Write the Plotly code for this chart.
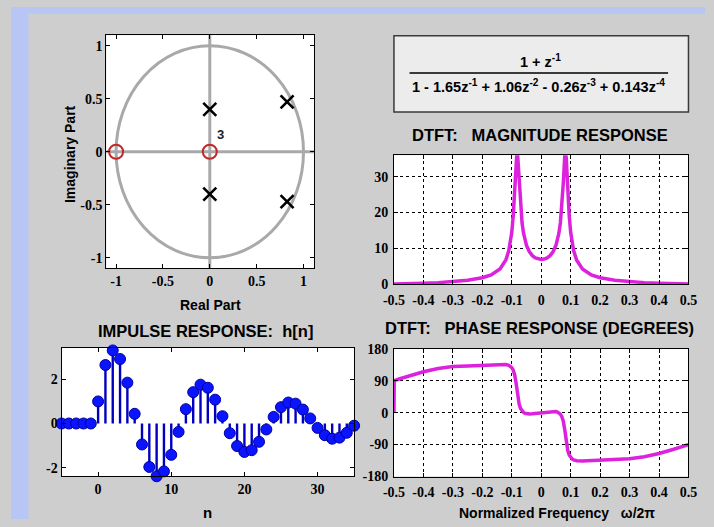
import plotly.graph_objects as go

# ---------------- data ----------------
# pole-zero plot
zero_re = [-1.0, 0.0]
zero_im = [0.0, 0.0]
pole_re = [0.0, 0.0, 0.825, 0.825]
pole_im = [0.40, -0.40, 0.47, -0.47]
zero_multiplicity_label = "3"

# DTFT (normalized frequency)
freq = [-0.5, -0.499, -0.48, -0.45, -0.4, -0.35, -0.3, -0.25, -0.2, -0.17, -0.14, -0.12, -0.11,
        -0.105, -0.1, -0.095, -0.09, -0.085, -0.0826, -0.08, -0.075, -0.07, -0.065, -0.06, -0.055,
        -0.05, -0.04, -0.03, -0.02, -0.01,
        0.0, 0.01, 0.02, 0.03, 0.04, 0.05, 0.055, 0.06, 0.065, 0.07, 0.075, 0.08, 0.0826, 0.085,
        0.09, 0.095, 0.1, 0.105, 0.11, 0.12, 0.14, 0.17, 0.2, 0.25, 0.3, 0.35, 0.4, 0.45, 0.48, 0.5]
magnitude = [0.0, 0.0, 0.03, 0.08, 0.18, 0.34, 0.60, 1.02, 1.73, 2.52, 4.15, 6.71, 9.31,
             11.39, 14.42, 19.08, 26.38, 35.16, 36.7, 35.9, 28.2, 21.43, 17.03, 14.15, 12.18,
             10.78, 8.96, 7.90, 7.28, 6.95,
             6.85, 6.95, 7.28, 7.90, 8.96, 10.78, 12.18, 14.15, 17.03, 21.43, 28.2, 35.9, 36.7, 35.16,
             26.38, 19.08, 14.42, 11.39, 9.31, 6.71, 4.15, 2.52, 1.73, 1.02, 0.60, 0.34, 0.18, 0.08, 0.03, 0.0]
phase_deg = [0.0, 90.2, 95.4, 103.2, 115.1, 124.3, 129.7, 131.6, 132.9, 134.5, 136.0, 135.3, 133.0,
             130.6, 126.5, 119.4, 106.1, 81.5, 65.4, 48.6, 24.3, 11.3, 4.4, 0.5, -1.7,
             -3.0, -3.8, -3.5, -2.6, -1.4,
             0.0, 1.4, 2.6, 3.5, 3.8, 3.0, 1.7, -0.5, -4.4, -11.3, -24.3, -48.6, -65.4, -81.5,
             -106.1, -119.4, -126.5, -130.6, -133.0, -135.3, -136.0, -134.5, -132.9, -131.6, -129.7,
             -124.3, -115.1, -103.2, -95.4, -90.0]

# impulse response h[n]
n_idx = list(range(-5, 36))
h_vals = [0, 0, 0, 0, 0,
          1.00, 2.65, 3.31, 2.92, 1.85, 0.44, -0.95, -1.97, -2.39, -2.17, -1.42, -0.38,
          0.65, 1.42, 1.76, 1.62, 1.08, 0.33, -0.44, -1.02, -1.29, -1.21, -0.83, -0.27,
          0.30, 0.74, 0.95, 0.90, 0.63, 0.23, -0.20, -0.53, -0.69, -0.64, -0.42, -0.10]

# tick labels
pz_ticks = [-1, -0.5, 0, 0.5, 1]
pz_ticktext = ["-1", "-0.5", "0", "0.5", "1"]
f_ticks = [-0.5, -0.4, -0.3, -0.2, -0.1, 0, 0.1, 0.2, 0.3, 0.4, 0.5]
f_ticktext = ["-0.5", "-0.4", "-0.3", "-0.2", "-0.1", "0", "0.1", "0.2", "0.3", "0.4", "0.5"]
mag_ticks = [0, 10, 20, 30]
ph_ticks = [-180, -90, 0, 90, 180]
ph_ticktext = ["-180", "-90", "0", "90", "180"]
n_ticks = [0, 10, 20, 30]
h_ticks = [-2, 0, 2]
h_ticktext = ["-2", "0", "2"]

# ---------------- layout helpers ----------------
W, H = 714, 527


def fx(p):
    return p / W


def fy(p):
    return 1 - p / H


BLUE_BG = "#b8c6f6"
PANEL = "#cecece"
GRAYL = "#a9a9a9"
MAGENTA = "#dd22dd"
SERIF = "Liberation Serif, Times New Roman, serif"
SANS = "Liberation Sans, Arial, sans-serif"

fig = go.Figure()

# pole-zero
fig.add_trace(go.Scatter(x=pole_re, y=pole_im, mode="markers", xaxis="x", yaxis="y",
                         marker=dict(symbol="x-thin-open", size=13, color="black",
                                     line=dict(width=2.6, color="black")),
                         hoverinfo="skip", showlegend=False))
fig.add_trace(go.Scatter(x=zero_re, y=zero_im, mode="markers", xaxis="x", yaxis="y",
                         marker=dict(symbol="circle-open", size=14, color="#c0282c",
                                     line=dict(width=2, color="#c0282c")),
                         hoverinfo="skip", showlegend=False))

# magnitude
fig.add_trace(go.Scatter(x=freq, y=magnitude, mode="lines", xaxis="x2", yaxis="y2",
                         line=dict(color=MAGENTA, width=3.5), hoverinfo="skip", showlegend=False))

# impulse response stems
stem_x, stem_y = [], []
for n, v in zip(n_idx, h_vals):
    stem_x += [n, n, None]
    stem_y += [0, v, None]
fig.add_trace(go.Scatter(x=stem_x, y=stem_y, mode="lines", xaxis="x3", yaxis="y3",
                         line=dict(color="#0000c0", width=2.4), hoverinfo="skip", showlegend=False))
fig.add_trace(go.Scatter(x=n_idx, y=h_vals, mode="markers", xaxis="x3", yaxis="y3",
                         marker=dict(symbol="circle", size=11, color="#0a14ff",
                                     line=dict(width=1, color="#0000a0")),
                         cliponaxis=False, hoverinfo="skip", showlegend=False))

# phase
fig.add_trace(go.Scatter(x=freq, y=phase_deg, mode="lines", xaxis="x4", yaxis="y4",
                         line=dict(color=MAGENTA, width=3.5), hoverinfo="skip", showlegend=False))

base_axis = dict(showline=True, linecolor="black", linewidth=1, mirror="ticks", ticks="inside",
                 ticklen=4, tickcolor="black", zeroline=False, showgrid=False,
                 tickfont=dict(family=SERIF, size=14, color="black", weight="bold"))
grid_axis = dict(base_axis, showgrid=True, gridcolor="black", gridwidth=1, griddash="3px,3px")

fig.update_layout(
    width=W, height=H, margin=dict(l=0, r=0, t=0, b=0),
    paper_bgcolor=PANEL, plot_bgcolor="white", showlegend=False,
    xaxis=dict(base_axis, domain=[fx(98), fx(312)], range=[-1.105, 1.115],
               tickvals=pz_ticks, ticktext=pz_ticktext, anchor="y"),
    yaxis=dict(base_axis, domain=[fy(269), fy(29)], range=[-1.1, 1.1],
               tickvals=pz_ticks, ticktext=pz_ticktext, anchor="x"),
    xaxis2=dict(grid_axis, domain=[fx(394), fx(697)], range=[-0.5, 0.5],
                tickvals=f_ticks, ticktext=f_ticktext, anchor="y2", ticklabelstandoff=3),
    yaxis2=dict(grid_axis, domain=[fy(285), fy(152.5)], range=[0, 36],
                tickvals=mag_ticks, anchor="x2", ticklabelstandoff=2),
    xaxis3=dict(base_axis, domain=[fx(52), fx(353)], range=[-5, 35],
                tickvals=n_ticks, anchor="y3"),
    yaxis3=dict(base_axis, domain=[fy(483), fy(351)], range=[-2.39, 3.42],
                tickvals=h_ticks, ticktext=h_ticktext, anchor="x3"),
    xaxis4=dict(grid_axis, domain=[fx(394), fx(697)], range=[-0.5, 0.5],
                tickvals=f_ticks, ticktext=f_ticktext, anchor="y4", ticklabelstandoff=3),
    yaxis4=dict(grid_axis, domain=[fy(483.3), fy(351.7)], range=[-180, 180],
                tickvals=ph_ticks, ticktext=ph_ticktext, anchor="x4", ticklabelstandoff=2),
)

shapes = [
    # blue frame strips
    dict(type="rect", xref="paper", yref="paper", x0=0, x1=fx(18), y0=0, y1=1,
         fillcolor=BLUE_BG, line=dict(width=0), layer="below"),
    dict(type="rect", xref="paper", yref="paper", x0=0, x1=1, y0=fy(7), y1=1,
         fillcolor=BLUE_BG, line=dict(width=0), layer="below"),
    # formula box
    dict(type="rect", xref="paper", yref="paper", x0=fx(394), x1=fx(697), y0=fy(108), y1=fy(29.5),
         fillcolor="#ececec", line=dict(width=1.5, color="#3a3a3a"), layer="below"),
    dict(type="line", xref="paper", yref="paper", x0=fx(410), x1=fx(676), y0=fy(68), y1=fy(68),
         line=dict(width=1.5, color="black")),
    # unit circle and axes in the z-plane
    dict(type="circle", xref="x", yref="y", x0=-1, x1=1, y0=-1, y1=1,
         line=dict(color=GRAYL, width=3), layer="below"),
    dict(type="line", xref="x domain", yref="y", x0=0, x1=1, y0=0, y1=0,
         line=dict(color=GRAYL, width=3), layer="below"),
    dict(type="line", xref="x", yref="y domain", x0=0, x1=0, y0=0, y1=1,
         line=dict(color=GRAYL, width=3), layer="below"),
]
fig.update_layout(shapes=shapes)

NB = "\u00a0"


def ann(text, x, y, size, family=SANS, weight="bold", angle=0, **kw):
    return dict(text=text, x=fx(x), y=fy(y), xref="paper", yref="paper", showarrow=False,
                xanchor="center", yanchor="middle", textangle=angle,
                font=dict(family=family, size=size, color="black", weight=weight), **kw)


annotations = [
    ann("1 + z<sup>-1</sup>", 545, 56, 14.5),
    ann("1 - 1.65z<sup>-1</sup> + 1.06z<sup>-2</sup> - 0.26z<sup>-3</sup> + 0.143z<sup>-4</sup>",
        543, 81, 14.5),
    ann("DTFT:" + NB * 3 + "MAGNITUDE RESPONSE", 544, 132, 16.5),
    ann("DTFT:" + NB * 3 + "PHASE RESPONSE (DEGREES)", 544, 330, 16.5),
    ann("IMPULSE RESPONSE:" + NB * 2 + "h[n]", 200, 333, 16.5),
    ann("Real Part", 205, 307, 14),
    ann("Imaginary Part", 60, 151, 14, angle=-90),
    ann("n", 202, 520, 15),
    ann("Normalized Frequency" + NB * 3 + "ω/2π", 562, 521, 14),
    dict(text=zero_multiplicity_label, x=0.0, y=0.0, xref="x", yref="y", xshift=11, yshift=17,
         showarrow=False, font=dict(family=SANS, size=13, color="#202020", weight="bold")),
]
fig.update_layout(annotations=annotations)

fig.write_html("out.html")
